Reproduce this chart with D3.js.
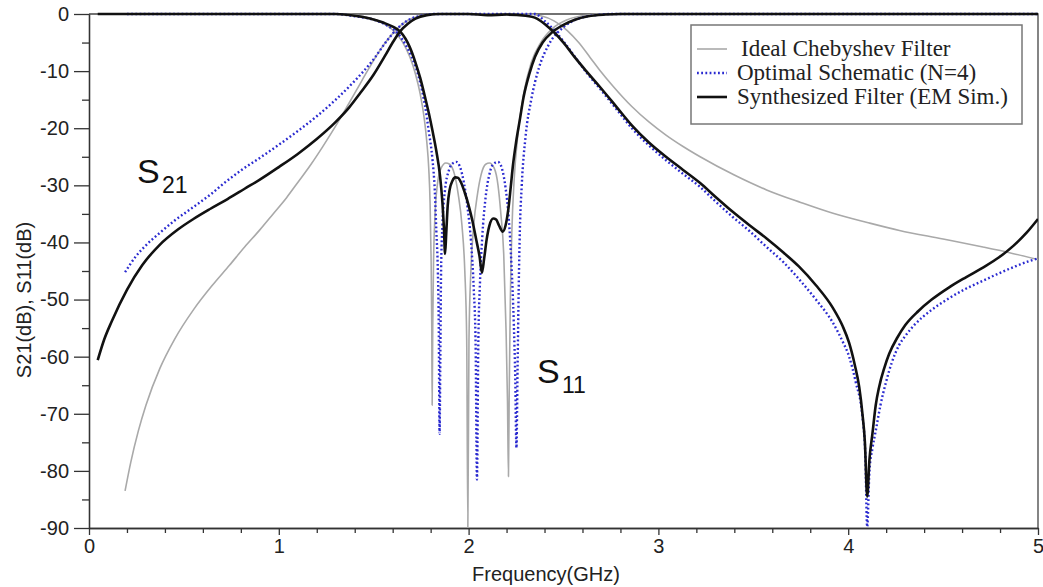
<!DOCTYPE html>
<html>
<head>
<meta charset="utf-8">
<script src="https://cdn.jsdelivr.net/npm/d3@7/dist/d3.min.js"></script>
<style>
  body { margin: 0; background: #fff; }
  svg { display: block; }
  .tick text { font-family: "Liberation Sans", Arial, sans-serif; font-size: 20px; fill: #222; }
  .axis path, .axis line { stroke: #333; stroke-width: 1.3; }
</style>
</head>
<body>
<div id="chart"></div>
<script>
// frequency in GHz, level in dB
var idealS21 = [[0.19,-83.5],[0.22,-78.5],[0.26,-73],[0.3,-68.5],[0.374,-62],[0.45,-57],[0.55,-51.8],[0.65,-47.5],[0.74,-44],[0.82,-40.8],[0.9,-37.8],[0.97,-35],[1.04,-32.2],[1.1,-29.5],[1.17,-26.3],[1.23,-23.3],[1.3,-19.6],[1.36,-16.2],[1.41,-13.3],[1.47,-9.8],[1.53,-6.5],[1.58,-4.2],[1.63,-2.4],[1.68,-1.1],[1.75,-0.3],[1.82,0],[2.3,0],[2.38,-0.3],[2.45,-1.2],[2.52,-2.9],[2.58,-5],[2.64,-7.6],[2.69,-9.8],[2.76,-12.6],[2.86,-16.2],[2.95,-18.9],[3.04,-21.2],[3.13,-23.2],[3.22,-25],[3.4,-28.2],[3.57,-30.8],[3.75,-33],[3.92,-34.9],[4.1,-36.5],[4.27,-37.9],[4.5,-39.4],[4.71,-40.8],[4.85,-41.8],[5.0,-43]];
var idealS11 = [[0.2,0],[1.35,0],[1.45,-0.5],[1.53,-1.3],[1.6,-2.8],[1.65,-4.8],[1.69,-7.5],[1.72,-10.5],[1.745,-14],[1.765,-18],[1.78,-22.5],[1.79,-27],[1.797,-33],[1.802,-42],[1.806,-55],[1.808,-68.5],[1.811,-55],[1.815,-44],[1.822,-36],[1.835,-30],[1.855,-27],[1.88,-26.1],[1.9,-26.3],[1.925,-28],[1.945,-31.5],[1.965,-37],[1.98,-45],[1.99,-57],[1.996,-90],[2.002,-57],[2.012,-45],[2.027,-37],[2.047,-31.5],[2.067,-28],[2.09,-26.3],[2.11,-26.1],[2.135,-27],[2.155,-30],[2.17,-35],[2.185,-42],[2.197,-55],[2.205,-68],[2.21,-81],[2.214,-66],[2.22,-50],[2.228,-38],[2.24,-29],[2.26,-21],[2.29,-14],[2.33,-8.5],[2.38,-5],[2.44,-2.6],[2.52,-1],[2.6,-0.3],[2.7,0],[5,0]];

var optS21 = [[0.19,-45.2],[0.25,-42.3],[0.3,-40.5],[0.374,-38.3],[0.45,-36.2],[0.55,-33.8],[0.64,-31.6],[0.72,-29.4],[0.8,-27.4],[0.9,-25.2],[1.0,-22.9],[1.1,-20.5],[1.2,-17.9],[1.3,-15],[1.4,-11.7],[1.5,-7.9],[1.567,-4.8],[1.62,-2.7],[1.68,-1.1],[1.75,-0.3],[1.82,0],[2.35,0],[2.4,-1.2],[2.45,-2.8],[2.5,-4.8],[2.56,-7.5],[2.62,-10.2],[2.69,-13],[2.78,-16.7],[2.86,-20],[2.95,-23],[3.04,-25.6],[3.13,-28],[3.22,-30.3],[3.3,-32.8],[3.39,-35.5],[3.48,-38],[3.567,-40.7],[3.66,-43.5],[3.74,-46.4],[3.83,-50],[3.92,-54.1],[3.97,-57.3],[4.005,-60],[4.04,-64.5],[4.075,-70.5],[4.09,-77],[4.1,-89.8],[4.112,-80],[4.128,-76],[4.145,-73],[4.17,-68.5],[4.198,-64.6],[4.23,-61],[4.268,-58],[4.3,-56.4],[4.35,-54.4],[4.44,-51.8],[4.53,-49.8],[4.62,-48.1],[4.71,-46.7],[4.795,-45.4],[4.88,-44.2],[4.95,-43.3],[5.0,-42.8]];
var optS11 = [[0.2,0],[1.3,0],[1.4,-0.4],[1.5,-1],[1.57,-2],[1.63,-3.5],[1.67,-5.5],[1.7,-7.5],[1.742,-11.6],[1.77,-16],[1.79,-20.5],[1.81,-25.6],[1.822,-31],[1.83,-38],[1.838,-45],[1.843,-55],[1.847,-73.5],[1.851,-60],[1.855,-45],[1.862,-37],[1.875,-31],[1.895,-27.5],[1.915,-26.2],[1.935,-25.9],[1.955,-26.8],[1.975,-29.5],[1.995,-34],[2.013,-40],[2.027,-48],[2.037,-58],[2.044,-81.5],[2.051,-58],[2.06,-47],[2.072,-39],[2.09,-32],[2.11,-28],[2.13,-26.3],[2.155,-25.9],[2.175,-27],[2.195,-30.5],[2.212,-36],[2.226,-44],[2.238,-54],[2.246,-64],[2.252,-76],[2.258,-62],[2.264,-48],[2.27,-38],[2.28,-30],[2.3,-21.5],[2.33,-15],[2.37,-9.5],[2.42,-5.5],[2.5,-2.3],[2.58,-0.8],[2.67,-0.2],[2.76,0],[5,0]];

var emS21 = [[0.046,-60.6],[0.08,-57],[0.12,-53.8],[0.2,-48.3],[0.28,-44],[0.37,-40.5],[0.47,-37.7],[0.55,-35.9],[0.64,-34.1],[0.73,-32.4],[0.82,-30.6],[0.9,-29],[1.0,-26.8],[1.1,-24.5],[1.2,-21.9],[1.3,-18.9],[1.37,-16.4],[1.43,-13.8],[1.5,-10.6],[1.56,-7.3],[1.6,-5],[1.64,-3],[1.68,-1.7],[1.72,-0.8],[1.78,-0.2],[1.85,0],[2.0,0],[2.1,-0.2],[2.2,-0.1],[2.3,-0.3],[2.36,-0.8],[2.41,-2],[2.45,-3.2],[2.5,-5],[2.56,-7.6],[2.62,-10],[2.69,-12.7],[2.78,-16.3],[2.86,-19.5],[2.95,-22.5],[3.04,-25],[3.13,-27.3],[3.22,-29.6],[3.3,-32],[3.39,-34.6],[3.48,-37],[3.57,-39.3],[3.66,-41.8],[3.74,-44.2],[3.83,-47.5],[3.92,-51.5],[3.97,-54.6],[4.005,-57.6],[4.035,-61.5],[4.058,-65.3],[4.075,-70],[4.088,-75],[4.1,-84.5],[4.112,-78],[4.128,-73.4],[4.145,-68.5],[4.163,-65.3],[4.19,-62],[4.216,-59.5],[4.26,-56.6],[4.3,-54.5],[4.37,-52],[4.44,-50],[4.53,-47.9],[4.62,-46.1],[4.71,-44.4],[4.795,-42.6],[4.87,-40.6],[4.94,-38.3],[5.0,-35.9]];
var emS11 = [[0.046,0],[1.3,0],[1.4,-0.3],[1.48,-0.8],[1.55,-1.5],[1.6,-2.2],[1.64,-3.1],[1.69,-5.8],[1.72,-8.5],[1.745,-11.2],[1.77,-14.5],[1.79,-17.3],[1.81,-20.5],[1.83,-24],[1.85,-28.5],[1.862,-33],[1.87,-37.5],[1.876,-42],[1.882,-38.5],[1.89,-33.5],[1.9,-30.8],[1.915,-29.2],[1.93,-28.6],[1.945,-28.7],[1.96,-29.5],[1.98,-31.3],[2.0,-33.5],[2.02,-36.2],[2.04,-39.5],[2.058,-42.5],[2.07,-45.3],[2.082,-42.8],[2.095,-39.5],[2.11,-37],[2.13,-35.8],[2.145,-36],[2.16,-37],[2.18,-38.1],[2.195,-37],[2.21,-34],[2.222,-30.3],[2.233,-26.7],[2.25,-22.5],[2.27,-18.5],[2.29,-14.5],[2.32,-10.5],[2.35,-7.5],[2.39,-5],[2.44,-3.2],[2.5,-1.9],[2.56,-1.0],[2.63,-0.4],[2.72,-0.1],[2.8,0],[5.0,0]];

var xMajor = [0, 1, 2, 3, 4, 5];
var xMinor = [0.2,0.4,0.6,0.8,1.2,1.4,1.6,1.8,2.2,2.4,2.6,2.8,3.2,3.4,3.6,3.8,4.2,4.4,4.6,4.8];
var yMajor = [0, -10, -20, -30, -40, -50, -60, -70, -80, -90];
var yMinor = [-5, -15, -25, -35, -45, -55, -65, -75, -85];
var legendNames = ["Ideal Chebyshev Filter", "Optimal Schematic (N=4)", "Synthesized Filter (EM Sim.)"];

var W = 1043, H = 587;
var margin = { top: 14, right: 5, bottom: 59, left: 89 };

var svg = d3.select("#chart").append("svg")
	.attr("width", W)
	.attr("height", H);

var x = d3.scaleLinear().domain([0, 5]).range([margin.left, W - margin.right]);
var y = d3.scaleLinear().domain([-90, 0]).range([H - margin.bottom, margin.top]);

// plain hyphen for negative labels, like the original
var plainNum = function(d) { return String(d); };

svg.append("clipPath").attr("id", "plotclip")
	.append("rect")
	.attr("x", x(0)).attr("y", y(0) - 2)
	.attr("width", x(5) - x(0)).attr("height", y(-90) - y(0) + 2);

// frame on top and right
svg.append("path")
	.attr("d", "M" + x(0) + "," + y(0) + "H" + x(5) + "V" + y(-90))
	.attr("fill", "none")
	.attr("stroke", "#444")
	.attr("stroke-width", 1.3);

// axes
svg.append("g").attr("class", "axis")
	.attr("transform", "translate(0," + y(-90) + ")")
	.call(d3.axisBottom(x).tickValues(xMinor).tickSize(5).tickSizeOuter(0).tickFormat(""));
svg.append("g").attr("class", "axis")
	.attr("transform", "translate(0," + y(-90) + ")")
	.call(d3.axisBottom(x).tickValues(xMajor).tickSize(7).tickSizeOuter(0).tickPadding(4).tickFormat(plainNum));

svg.append("g").attr("class", "axis")
	.attr("transform", "translate(" + x(0) + ",0)")
	.call(d3.axisLeft(y).tickValues(yMinor).tickSize(7).tickSizeOuter(0).tickFormat(""));
svg.append("g").attr("class", "axis")
	.attr("transform", "translate(" + x(0) + ",0)")
	.call(d3.axisLeft(y).tickValues(yMajor).tickSize(15).tickSizeOuter(0).tickPadding(5).tickFormat(plainNum));

svg.append("text")
	.attr("x", 546).attr("y", 581)
	.attr("text-anchor", "middle")
	.style("font-family", "'Liberation Sans', Arial, sans-serif")
	.style("font-size", "20px")
	.style("fill", "#222")
	.text("Frequency(GHz)");

svg.append("text")
	.attr("transform", "translate(31,300) rotate(-90)")
	.attr("text-anchor", "middle")
	.style("font-family", "'Liberation Sans', Arial, sans-serif")
	.style("font-size", "20px")
	.style("fill", "#222")
	.text("S21(dB), S11(dB)");

// curves
var line = d3.line()
	.x(function(d) { return x(d[0]); })
	.y(function(d) { return y(d[1]); })
	.curve(d3.curveMonotoneX);

var plot = svg.append("g").attr("clip-path", "url(#plotclip)");

var styles = {
	ideal: { stroke: "#a9a9a9", width: 1.6, dash: null },
	opt: { stroke: "#2a2ad0", width: 2.4, dash: "1.8,2.4" },
	em: { stroke: "#111", width: 2.6, dash: null }
};

[[idealS21, "ideal"], [idealS11, "ideal"], [optS21, "opt"], [optS11, "opt"], [emS21, "em"], [emS11, "em"]]
	.forEach(function(s) {
		var st = styles[s[1]];
		plot.append("path")
			.datum(s[0])
			.attr("d", line)
			.attr("fill", "none")
			.attr("stroke", st.stroke)
			.attr("stroke-width", st.width)
			.attr("stroke-dasharray", st.dash)
			.attr("stroke-linejoin", "round");
	});

// S-parameter labels
function sLabel(px, py, sub) {
	var g = svg.append("g").style("font-family", "'Liberation Sans', Arial, sans-serif").style("fill", "#111");
	g.append("text").attr("x", px).attr("y", py).style("font-size", "34px").text("S");
	g.append("text").attr("x", px + 25).attr("y", py + 10).style("font-size", "23px").text(sub);
}
sLabel(137, 183, "21");
sLabel(537, 383, "11");

// legend
var legend = svg.append("g");
legend.append("rect")
	.attr("x", 691).attr("y", 25)
	.attr("width", 331).attr("height", 99)
	.attr("fill", "#fff")
	.attr("stroke", "#777")
	.attr("stroke-width", 1.5);

var legStyles = [styles.ideal, styles.opt, styles.em];
legendNames.forEach(function(name, i) {
	var by = 56 + i * 24;
	var st = legStyles[i];
	legend.append("line")
		.attr("x1", 697).attr("x2", 727)
		.attr("y1", by - 7).attr("y2", by - 7)
		.attr("stroke", st.stroke)
		.attr("stroke-width", st.width)
		.attr("stroke-dasharray", st.dash);
	legend.append("text")
		.attr("x", i === 0 ? 741 : 737).attr("y", by)
		.style("font-family", "'Liberation Serif', 'Times New Roman', serif")
		.style("font-size", "23px")
		.style("fill", "#222")
		.text(name);
});
</script>
</body>
</html>
